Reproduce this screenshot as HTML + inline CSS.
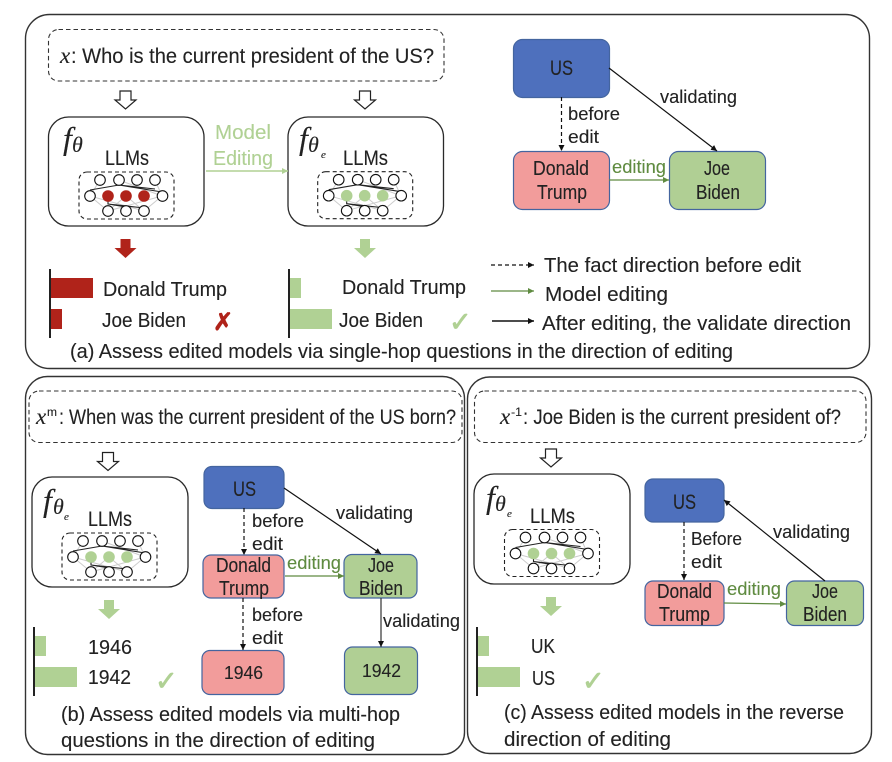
<!DOCTYPE html>
<html><head><meta charset="utf-8">
<style>
html,body{margin:0;padding:0;background:#fff}
svg{display:block}
text{font-family:"Liberation Sans",sans-serif;font-size:20px;fill:#222;stroke:#222;stroke-width:.12}
.m{font-family:"Liberation Serif",serif;font-style:italic}
.g{fill:#5f8b40;stroke:#5f8b40}
.lg{fill:#b0d194;stroke:#b0d194}
.ck{font-family:"DejaVu Sans",sans-serif;font-size:27px;fill:#b0d194;stroke:#b0d194;stroke-width:.8}
.xx{font-family:"DejaVu Sans",sans-serif;font-size:24px;fill:#b0231a;stroke:#b0231a;stroke-width:.9}
.p{fill:none;stroke:#333;stroke-width:1.4}
.q{fill:none;stroke:#333;stroke-width:1.1;stroke-dasharray:4.5 3}
.l{fill:#fff;stroke:#2a2a2a;stroke-width:1.3}
.n{stroke:#44659f;stroke-width:1.2}
.bl{fill:#4e70bd}.rd{fill:#f29c9b}.gr{fill:#b0cf94}
.d{stroke:#111;stroke-width:1.2;stroke-dasharray:4 3;fill:none}
.s{stroke:#111;stroke-width:1.2;fill:none}
.e{stroke:#5f8b40;stroke-width:1.3;fill:none}
</style></head><body>
<svg width="892" height="762" viewBox="0 0 892 762" xmlns="http://www.w3.org/2000/svg">
<defs>
<marker id="ab" markerUnits="userSpaceOnUse" markerWidth="8" markerHeight="8" refX="6" refY="4" orient="auto"><path d="M0,1L6,4L0,7z" fill="#111"/></marker>
<marker id="ag" markerUnits="userSpaceOnUse" markerWidth="8" markerHeight="8" refX="6" refY="4" orient="auto"><path d="M0,1L6,4L0,7z" fill="#5f8b40"/></marker>
<marker id="al" markerUnits="userSpaceOnUse" markerWidth="8" markerHeight="8" refX="6" refY="4" orient="auto"><path d="M0,1L6,4L0,7z" fill="#b0d194"/></marker>
<path id="ha" d="M-5.5,0h11v9h5L0,18L-10.5,9h5z" fill="#fff" stroke="#222" stroke-width="1.2"/>
<path id="sa" d="M-5,0h10v9h6L0,19L-11,9h6z"/>
<g id="nn">
<rect x="79" y="172" width="95" height="47" rx="8" fill="none" stroke="#222" stroke-width="1.1" stroke-dasharray="4 3"/>
<path d="M100,180L90,196L108,211L126,196L144,211L162,196L155,180M108,211L162,196M90,196L144,211M119,180L162,196" fill="none" stroke="#ccc" stroke-width="1"/>
<path d="M90,190L119,185L162,192M119,185L155,189M108,200V204L144,208M108,204L126,207" fill="none" stroke="#222" stroke-width="1.1"/>
<g fill="#fff" stroke="#111" stroke-width="1.1">
<circle cx="100" cy="180" r="5.3"/><circle cx="119" cy="180" r="5.3"/><circle cx="137" cy="180" r="5.3"/><circle cx="155" cy="180" r="5.3"/>
<circle cx="90" cy="196" r="5.3"/><circle cx="162.500" cy="196" r="5.3"/>
<circle cx="108" cy="211" r="5.3"/><circle cx="126" cy="211" r="5.3"/><circle cx="144" cy="211" r="5.3"/>
</g>
<g fill="currentColor"><circle cx="108" cy="196" r="5.800"/><circle cx="126" cy="196" r="5.800"/><circle cx="144" cy="196" r="5.800"/></g>
</g>
</defs>

<!-- panels -->
<rect class="p" x="25.500" y="14.500" width="844" height="354" rx="24"/>
<rect class="p" x="25.500" y="376.500" width="439" height="378" rx="22"/>
<rect class="p" x="467.500" y="377" width="404" height="376.500" rx="22"/>

<!-- panel a -->
<rect class="q" x="48.500" y="29.500" width="395.500" height="51.500" rx="10"/>
<text class="m" x="60" y="63" style="font-size:23px">x</text>
<text x="71" y="63" style="font-size:21.500px" textLength="363" lengthAdjust="spacingAndGlyphs">: Who is the current president of the US?</text>
<use href="#ha" x="125.500" y="91"/><use href="#ha" x="365" y="91"/>
<rect class="l" x="48.500" y="117" width="155.500" height="109" rx="20"/>
<rect class="l" x="288" y="117" width="155.500" height="109" rx="20"/>
<text class="m" x="63" y="149" style="font-size:32px">f</text><text class="m" x="72" y="152" style="font-size:22px">θ</text>
<text x="105" y="165" style="font-size:21px" textLength="44" lengthAdjust="spacingAndGlyphs">LLMs</text>
<text class="m" x="299" y="149" style="font-size:32px">f</text><text class="m" x="308" y="152" style="font-size:22px">θ</text><text class="m" x="321" y="158" style="font-size:11px">e</text>
<text x="343" y="165" style="font-size:21px" textLength="45" lengthAdjust="spacingAndGlyphs">LLMs</text>
<use href="#nn" color="#b0231a"/>
<use href="#nn" x="238.700" y="-0.3" color="#b0d194"/>
<text class="lg" x="215" y="139" textLength="56" lengthAdjust="spacingAndGlyphs">Model</text>
<text class="lg" x="213" y="165" textLength="60" lengthAdjust="spacingAndGlyphs">Editing</text>
<path d="M206,171H288" stroke="#b0d194" stroke-width="1.400" fill="none" marker-end="url(#al)"/>
<use href="#sa" x="125.500" y="239" fill="#b0231a"/><use href="#sa" x="365" y="239" fill="#b0d194"/>
<rect x="49" y="269" width="2" height="69" fill="#222"/>
<rect x="51" y="278" width="42" height="20" fill="#b0231a"/><rect x="51" y="309" width="11" height="20" fill="#b0231a"/>
<text x="103" y="296" textLength="124" lengthAdjust="spacingAndGlyphs">Donald Trump</text>
<text x="102" y="327" textLength="84" lengthAdjust="spacingAndGlyphs">Joe Biden</text>
<text class="xx" x="213" y="330">✗</text>
<rect x="288" y="269" width="2" height="69" fill="#222"/>
<rect x="290" y="278" width="11" height="20" fill="#b0d194"/><rect x="290" y="309" width="42" height="20" fill="#b0d194"/>
<text x="342" y="294" textLength="124" lengthAdjust="spacingAndGlyphs">Donald Trump</text>
<text x="339" y="327" textLength="84" lengthAdjust="spacingAndGlyphs">Joe Biden</text>
<text class="ck" x="449" y="331">✓</text>
<text x="70" y="358" textLength="663" lengthAdjust="spacingAndGlyphs">(a) Assess edited models via single-hop questions in the direction of editing</text>

<rect class="n bl" x="513.500" y="39.500" width="96" height="58" rx="9"/>
<rect class="n rd" x="513.500" y="151.500" width="96" height="58" rx="9"/>
<rect class="n gr" x="669.500" y="151.500" width="96" height="58" rx="9"/>
<text x="550" y="75" style="font-size:21px" textLength="23" lengthAdjust="spacingAndGlyphs">US</text>
<text x="533" y="175" textLength="56" lengthAdjust="spacingAndGlyphs">Donald</text>
<text x="537" y="199" textLength="50" lengthAdjust="spacingAndGlyphs">Trump</text>
<text x="704" y="175" textLength="26" lengthAdjust="spacingAndGlyphs">Joe</text>
<text x="696" y="199" textLength="44" lengthAdjust="spacingAndGlyphs">Biden</text>
<path class="d" d="M561.500,97V151" marker-end="url(#ab)"/>
<path class="s" d="M609,68L717,151" marker-end="url(#ab)"/>
<path class="e" d="M609,180H669" marker-end="url(#ag)"/>
<text x="568" y="120" style="font-size:18px" textLength="52" lengthAdjust="spacingAndGlyphs">before</text>
<text x="568" y="143" style="font-size:18px" textLength="31" lengthAdjust="spacingAndGlyphs">edit</text>
<text x="660" y="103" style="font-size:18px" textLength="77" lengthAdjust="spacingAndGlyphs">validating</text>
<text class="g" x="612" y="173" style="font-size:18px" textLength="54" lengthAdjust="spacingAndGlyphs">editing</text>
<path class="d" d="M491,265H534" marker-end="url(#ab)"/>
<path class="e" d="M491,291H534" marker-end="url(#ag)"/>
<path class="s" style="stroke-width:1.500" d="M492,321H534" marker-end="url(#ab)"/>
<text x="544" y="272" textLength="257" lengthAdjust="spacingAndGlyphs">The fact direction before edit</text>
<text x="545" y="301" textLength="123" lengthAdjust="spacingAndGlyphs">Model editing</text>
<text x="542" y="330" textLength="309" lengthAdjust="spacingAndGlyphs">After editing, the validate direction</text>

<!-- panel b -->
<rect class="q" x="29" y="391" width="433" height="51.500" rx="10"/>
<text class="m" x="36" y="424" style="font-size:23px">x</text>
<text x="47" y="416" style="font-size:12px" textLength="10" lengthAdjust="spacingAndGlyphs">m</text>
<text x="59" y="424" style="font-size:21.500px" textLength="397" lengthAdjust="spacingAndGlyphs">: When was the current president of the US born?</text>
<use href="#ha" x="108" y="452.500"/>
<rect class="l" x="32" y="477" width="156" height="110" rx="20"/>
<text class="m" x="43" y="511" style="font-size:32px">f</text><text class="m" x="53" y="514" style="font-size:22px">θ</text><text class="m" x="64" y="520" style="font-size:11px">e</text>
<text x="88" y="526" style="font-size:21px" textLength="44" lengthAdjust="spacingAndGlyphs">LLMs</text>
<use href="#nn" x="-17" y="361" color="#b0d194"/>
<use href="#sa" x="109" y="600" fill="#b0d194"/>
<rect x="33" y="627" width="2" height="69" fill="#222"/>
<rect x="35" y="636" width="11" height="20" fill="#b0d194"/><rect x="35" y="667" width="42" height="20" fill="#b0d194"/>
<text x="88" y="654" textLength="44" lengthAdjust="spacingAndGlyphs">1946</text>
<text x="88" y="684" textLength="43" lengthAdjust="spacingAndGlyphs">1942</text>
<text class="ck" x="155" y="690">✓</text>

<rect class="n bl" x="204" y="466.500" width="80" height="42" rx="8"/>
<rect class="n rd" x="203" y="555" width="81" height="43" rx="8"/>
<rect class="n gr" x="344" y="554.500" width="73" height="43.500" rx="8"/>
<rect class="n rd" x="202" y="650.500" width="82" height="44" rx="8"/>
<rect class="n gr" x="344.500" y="647" width="73" height="47.500" rx="8"/>
<text x="233" y="496" style="font-size:21px" textLength="23" lengthAdjust="spacingAndGlyphs">US</text>
<text x="216" y="572" textLength="55" lengthAdjust="spacingAndGlyphs">Donald</text>
<text x="219" y="595" textLength="50" lengthAdjust="spacingAndGlyphs">Trump</text>
<text x="368" y="572" textLength="26" lengthAdjust="spacingAndGlyphs">Joe</text>
<text x="359" y="595" textLength="44" lengthAdjust="spacingAndGlyphs">Biden</text>
<text x="224" y="679" style="font-size:18px" textLength="39" lengthAdjust="spacingAndGlyphs">1946</text>
<text x="362" y="677" style="font-size:18px" textLength="39" lengthAdjust="spacingAndGlyphs">1942</text>
<path class="d" d="M244,508V555" marker-end="url(#ab)"/>
<path class="d" d="M243,598V650" marker-end="url(#ab)"/>
<path class="s" d="M284,488L381,554" marker-end="url(#ab)"/>
<path class="s" style="stroke:#333" d="M381,598V647" marker-end="url(#ab)"/>
<path class="e" d="M285,576H344" marker-end="url(#ag)"/>
<text x="252" y="527" style="font-size:18px" textLength="52" lengthAdjust="spacingAndGlyphs">before</text>
<text x="252" y="550" style="font-size:18px" textLength="31" lengthAdjust="spacingAndGlyphs">edit</text>
<text x="252" y="621" style="font-size:18px" textLength="51" lengthAdjust="spacingAndGlyphs">before</text>
<text x="252" y="644" style="font-size:18px" textLength="31" lengthAdjust="spacingAndGlyphs">edit</text>
<text x="336" y="519" style="font-size:18px" textLength="77" lengthAdjust="spacingAndGlyphs">validating</text>
<text x="383" y="627" style="font-size:18px" textLength="77" lengthAdjust="spacingAndGlyphs">validating</text>
<text class="g" x="287" y="569" style="font-size:18px" textLength="54" lengthAdjust="spacingAndGlyphs">editing</text>
<text x="61" y="721" textLength="339" lengthAdjust="spacingAndGlyphs">(b) Assess edited models via multi-hop</text>
<text x="61" y="747" textLength="314" lengthAdjust="spacingAndGlyphs">questions in the direction of editing</text>

<!-- panel c -->
<rect class="q" x="474.500" y="391" width="391.500" height="51.500" rx="10"/>
<text class="m" x="500" y="424" style="font-size:23px">x</text>
<text x="511" y="416" style="font-size:12px" textLength="11" lengthAdjust="spacingAndGlyphs">-1</text>
<text x="523" y="424" style="font-size:21.500px" textLength="318" lengthAdjust="spacingAndGlyphs">: Joe Biden is the current president of?</text>
<use href="#ha" x="551" y="449"/>
<rect class="l" x="474" y="474" width="156" height="110" rx="20"/>
<text class="m" x="486" y="508" style="font-size:32px">f</text><text class="m" x="495" y="511" style="font-size:22px">θ</text><text class="m" x="507" y="517" style="font-size:11px">e</text>
<text x="530" y="523" style="font-size:21px" textLength="45" lengthAdjust="spacingAndGlyphs">LLMs</text>
<use href="#nn" x="425.500" y="357.500" color="#b0d194"/>
<use href="#sa" x="551" y="597" fill="#b0d194"/>
<rect x="476" y="627" width="2" height="69" fill="#222"/>
<rect x="478" y="636" width="11" height="20" fill="#b0d194"/><rect x="478" y="667" width="42" height="20" fill="#b0d194"/>
<text x="531" y="653" textLength="24" lengthAdjust="spacingAndGlyphs">UK</text>
<text x="532" y="685" textLength="23" lengthAdjust="spacingAndGlyphs">US</text>
<text class="ck" x="582" y="690">✓</text>

<rect class="n bl" x="645" y="479" width="79" height="43" rx="8"/>
<rect class="n rd" x="645" y="581" width="79" height="44.500" rx="8"/>
<rect class="n gr" x="786.500" y="581" width="77" height="44.500" rx="8"/>
<text x="673" y="509" style="font-size:21px" textLength="23" lengthAdjust="spacingAndGlyphs">US</text>
<text x="657" y="598" textLength="55" lengthAdjust="spacingAndGlyphs">Donald</text>
<text x="659" y="621" textLength="51" lengthAdjust="spacingAndGlyphs">Trump</text>
<text x="812" y="598" textLength="26" lengthAdjust="spacingAndGlyphs">Joe</text>
<text x="803" y="621" textLength="44" lengthAdjust="spacingAndGlyphs">Biden</text>
<path class="d" d="M684,522V580" marker-end="url(#ab)"/>
<path class="s" d="M825,581L724,500" marker-end="url(#ab)"/>
<path class="e" d="M724,603L786,604" marker-end="url(#ag)"/>
<text x="691" y="545" style="font-size:18px" textLength="51" lengthAdjust="spacingAndGlyphs">Before</text>
<text x="691" y="568" style="font-size:18px" textLength="31" lengthAdjust="spacingAndGlyphs">edit</text>
<text x="773" y="538" style="font-size:18px" textLength="77" lengthAdjust="spacingAndGlyphs">validating</text>
<text class="g" x="727" y="595" style="font-size:18px" textLength="54" lengthAdjust="spacingAndGlyphs">editing</text>
<text x="504" y="719" textLength="340" lengthAdjust="spacingAndGlyphs">(c) Assess edited models in the reverse</text>
<text x="504" y="746" textLength="167" lengthAdjust="spacingAndGlyphs">direction of editing</text>
</svg>
</body></html>
